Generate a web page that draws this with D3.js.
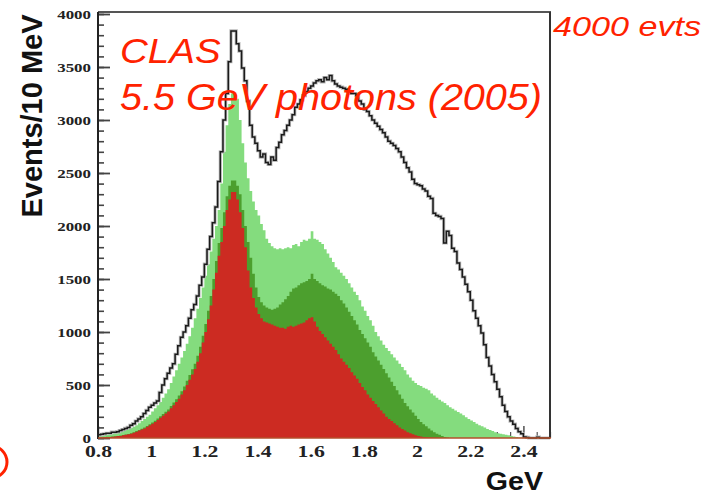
<!DOCTYPE html>
<html>
<head>
<meta charset="utf-8">
<script src="https://cdn.jsdelivr.net/npm/d3@7"></script>
<style>
body{margin:0;background:#fff;}
</style>
</head>
<body>
<svg id="chart" width="707" height="495"></svg>
<script>
// 10 MeV bins starting at 0.8 GeV
var binStart = 0.8, binWidth = 0.01;

// all events (black outline)
var total = [
  30, 35, 40, 45, 45, 55, 55, 60, 70, 80,
  90, 100, 120, 135, 160, 180, 200, 230, 260, 290,
  310, 330, 350, 430, 500, 560, 610, 660, 700, 790,
  870, 950, 1000, 1060, 1130, 1210, 1260, 1340, 1440, 1520,
  1640, 1780, 1900, 2030, 2180, 2420, 2700, 3000, 3250, 3550,
  3840, 3840, 3720, 3650, 3490, 3370, 3180, 2950, 2840, 2780,
  2710, 2650, 2680, 2600, 2580, 2650, 2620, 2740, 2790, 2860,
  2900, 2950, 3000, 3050, 3120, 3150, 3190, 3230, 3270, 3300,
  3320, 3350, 3370, 3380, 3360, 3400, 3380, 3420, 3370, 3340,
  3320, 3310, 3300, 3290, 3270, 3250, 3250, 3230, 3180, 3150,
  3100, 3080, 3040, 3000, 2970, 2940, 2910, 2880, 2840, 2800,
  2780, 2760, 2730, 2700, 2650, 2600, 2550, 2510, 2440, 2400,
  2390, 2380, 2350, 2330, 2280, 2260, 2120, 2100, 2090, 2070,
  1840, 1950, 1910, 1790, 1760, 1650, 1590, 1520, 1450, 1380,
  1300, 1200, 1130, 1060, 990, 880, 760, 680, 600, 530,
  460, 390, 310, 250, 200, 160, 130, 90, 60, 40,
  10, 5, 0, 0, 0, 8, 0, 0, 0, 0
];

// stacked tops: light green (outer), dark green, red (inner)
var lightGreen = [
  20, 25, 30, 35, 40, 45, 50, 55, 60, 70,
  75, 85, 95, 105, 120, 140, 160, 180, 200, 220,
  250, 280, 310, 340, 380, 420, 460, 520, 580, 640,
  700, 760, 820, 890, 960, 1040, 1130, 1220, 1320, 1420,
  1530, 1640, 1760, 1880, 2000, 2150, 2400, 2700, 2950, 3150,
  3250, 3260, 3200, 3000, 2780, 2600, 2450, 2330, 2230, 2150,
  2100, 2020, 1960, 1880, 1840, 1810, 1790, 1780, 1790, 1780,
  1790, 1800, 1790, 1820, 1830, 1810, 1850, 1870, 1860, 1880,
  1950, 1880, 1870, 1850, 1830, 1780, 1740, 1700, 1660, 1610,
  1590, 1560, 1530, 1500, 1460, 1420, 1380, 1350, 1300, 1240,
  1200, 1150, 1110, 1060, 1000, 960, 920, 880, 850, 820,
  790, 760, 730, 700, 670, 640, 600, 570, 540, 520,
  500, 490, 475, 465, 450, 420, 400, 380, 360, 345,
  330, 310, 290, 275, 260, 245, 230, 215, 195, 180,
  165, 150, 135, 120, 110, 100, 85, 75, 65, 55,
  45, 40, 35, 30, 25, 20, 15, 10, 5, 5,
  0, 0, 0, 0, 0, 0, 0, 0, 0, 0
];

var darkGreen = [
  5, 6, 9, 11, 12, 14, 17, 20, 23, 28,
  33, 38, 44, 55, 65, 76, 87, 98, 114, 130,
  146, 162, 184, 205, 227, 248, 270, 302, 334, 366,
  400, 442, 485, 540, 594, 648, 700, 776, 860, 965,
  1075, 1200, 1340, 1500, 1670, 1840, 1980, 2130, 2280, 2380,
  2430, 2430, 2380, 2300, 2150, 2000, 1850, 1700, 1550, 1420,
  1330, 1280, 1250, 1230, 1220, 1210, 1220, 1230, 1260, 1280,
  1310, 1340, 1380, 1410, 1420, 1440, 1460, 1470, 1480, 1500,
  1550, 1500, 1480, 1460, 1440, 1430, 1410, 1400, 1380, 1360,
  1340, 1300, 1270, 1230, 1190, 1150, 1110, 1070, 1020, 980,
  940, 900, 860, 810, 770, 730, 690, 650, 610, 570,
  530, 490, 450, 410, 370, 330, 300, 270, 240, 210,
  180, 150, 130, 110, 90, 70, 55, 40, 30, 20,
  10, 5, 0, 0, 0, 0, 0, 0, 0, 0,
  0, 0, 0, 0, 0, 0, 0, 0, 0, 0,
  0, 0, 0, 0, 0, 0, 0, 0, 0, 0,
  0, 0, 0, 0, 0, 0, 0, 0, 0, 0
];

var red = [
  5, 5, 8, 10, 10, 12, 15, 18, 20, 25,
  30, 35, 40, 50, 60, 70, 80, 90, 105, 120,
  135, 150, 170, 190, 210, 230, 250, 280, 310, 340,
  370, 410, 450, 500, 550, 600, 650, 720, 800, 900,
  1000, 1120, 1250, 1400, 1560, 1720, 1850, 2000, 2150, 2250,
  2320, 2320, 2250, 2130, 1980, 1800, 1580, 1420, 1320, 1230,
  1170, 1130, 1100, 1090, 1080, 1070, 1060, 1050, 1040, 1040,
  1030, 1050, 1060, 1050, 1060, 1070, 1080, 1090, 1110, 1130,
  1140, 1100, 1050, 1010, 980, 950, 920, 890, 860, 830,
  790, 750, 720, 690, 660, 620, 590, 560, 520, 480,
  450, 410, 380, 350, 320, 290, 260, 230, 200, 180,
  160, 140, 120, 100, 85, 70, 55, 45, 35, 25,
  20, 15, 10, 8, 5, 5, 3, 2, 0, 0,
  0, 0, 0, 0, 0, 0, 0, 0, 0, 0,
  0, 0, 0, 0, 0, 0, 0, 0, 0, 0,
  0, 0, 0, 0, 0, 0, 0, 0, 0, 0,
  0, 0, 0, 0, 0, 0, 0, 0, 0, 0
];

var xTicks = [0.8, 1, 1.2, 1.4, 1.6, 1.8, 2, 2.2, 2.4];
var xMinor = [0.85, 0.9, 0.95, 1.05, 1.1, 1.15, 1.25, 1.3, 1.35, 1.45, 1.5, 1.55, 1.65, 1.7, 1.75, 1.85, 1.9, 1.95, 2.05, 2.1, 2.15, 2.25, 2.3, 2.35, 2.45, 2.5];
var yTicks = [0, 500, 1000, 1500, 2000, 2500, 3000, 3500, 4000];

var svg = d3.select('#chart');

var x = d3.scaleLinear().domain([0.8, 2.5]).range([98, 550]);
var y = d3.scaleLinear().domain([0, 4000]).range([438, 14]);

// stretch text horizontally, the original picture is squeezed
function stretch(sel, k){
    sel.each(function(){
        var w = this.getComputedTextLength();
        d3.select(this).attr('textLength', w * k).attr('lengthAdjust', 'spacingAndGlyphs');
    });
}

// turn bin contents into step points, closing the last bin at 2.5
function steps(arr){
    var pts = arr.map((v, i) => [binStart + i * binWidth, v]);
    pts.push([binStart + arr.length * binWidth, arr[arr.length - 1]]);
    return pts;
}

// minor ticks first, they end up under the fills
svg.append('g')
    .attr('transform', 'translate(98,0)')
    .call(d3.axisLeft(y).tickValues(d3.range(0, 4001, 100)).tickSize(-6).tickSizeOuter(0).tickFormat(''))
    .call(g => g.select('.domain').remove())
    .selectAll('line').attr('stroke', '#444').attr('stroke-width', 1.6);

svg.append('g')
    .attr('transform', 'translate(0,438)')
    .call(d3.axisBottom(x).tickValues(xMinor).tickSize(-6).tickSizeOuter(0).tickFormat(''))
    .call(g => g.select('.domain').remove())
    .selectAll('line').attr('stroke', '#555').attr('stroke-width', 1.2);

var yAxis = svg.append('g')
    .attr('transform', 'translate(98,0)')
    .call(d3.axisLeft(y).tickValues(yTicks).tickSize(-12).tickSizeOuter(0).tickPadding(7).tickFormat(d3.format('d')));
yAxis.select('.domain').remove();
yAxis.selectAll('line').attr('stroke', '#444').attr('stroke-width', 1.8);
yAxis.selectAll('text')
    .attr('fill', '#222')
    .style('font', 'bold 13px "Liberation Serif", serif')
    .call(stretch, 1.3);

var xAxis = svg.append('g')
    .attr('transform', 'translate(0,438)')
    .call(d3.axisBottom(x).tickValues(xTicks).tickSize(-12).tickSizeOuter(0).tickPadding(7).tickFormat(d => String(d)));
xAxis.select('.domain').remove();
xAxis.selectAll('line').attr('stroke', '#444').attr('stroke-width', 1.4);
xAxis.selectAll('text')
    .attr('fill', '#222')
    .style('font', 'bold 17px "Liberation Serif", serif')
    .call(stretch, 1.28);

var area = d3.area()
    .x(d => x(d[0]))
    .y0(y(0))
    .y1(d => y(d[1]))
    .curve(d3.curveStepAfter);

svg.append('path').datum(steps(lightGreen)).attr('fill', '#84dc7e').attr('d', area);
svg.append('path').datum(steps(darkGreen)).attr('fill', '#4c9f2e').attr('d', area);
svg.append('path').datum(steps(red)).attr('fill', '#cc2b22').attr('d', area);

var line = d3.line()
    .x(d => x(d[0]))
    .y(d => y(d[1]))
    .curve(d3.curveStepAfter);

// grey halo under the outline like in the scanned plot
svg.append('path').datum(steps(total))
    .attr('fill', 'none').attr('stroke', '#bbb').attr('stroke-width', 3.2).attr('d', line);
svg.append('path').datum(steps(total))
    .attr('fill', 'none').attr('stroke', '#1a1a1a').attr('stroke-width', 1.5).attr('d', line);

// frame
svg.append('line').attr('x1', 98).attr('x2', 551).attr('y1', 12).attr('y2', 12)
    .attr('stroke', '#555').attr('stroke-width', 2);
svg.append('line').attr('x1', 550).attr('x2', 550).attr('y1', 12).attr('y2', 438)
    .attr('stroke', '#333').attr('stroke-width', 2);
svg.append('line').attr('x1', 98).attr('x2', 98).attr('y1', 12).attr('y2', 439)
    .attr('stroke', '#222').attr('stroke-width', 2);
svg.append('line').attr('x1', 98).attr('x2', 551).attr('y1', 438).attr('y2', 438)
    .attr('stroke', '#b4502c').attr('stroke-width', 1.6);

// axis titles
svg.append('text')
    .attr('transform', 'translate(42,116) rotate(-90)')
    .attr('text-anchor', 'middle')
    .style('font', 'bold 29px "Liberation Sans", Arial, sans-serif')
    .attr('fill', '#111')
    .text('Events/10 MeV');

svg.append('text')
    .attr('x', 543).attr('y', 490)
    .attr('text-anchor', 'end')
    .style('font', 'bold 26px "Liberation Sans", Arial, sans-serif')
    .attr('fill', '#111')
    .text('GeV')
    .call(stretch, 1.1);

// red labels
svg.append('text')
    .attr('x', 120).attr('y', 63)
    .style('font', 'italic 35px "Liberation Sans", Arial, sans-serif')
    .attr('fill', '#ff2200')
    .text('CLAS')
    .call(stretch, 1.1);

svg.append('text')
    .attr('x', 120).attr('y', 110)
    .style('font', 'italic 36px "Liberation Sans", Arial, sans-serif')
    .attr('fill', '#ff2200')
    .text('5.5 GeV photons (2005)')
    .each(function(){ d3.select(this).attr('textLength', 422).attr('lengthAdjust', 'spacingAndGlyphs'); });

svg.append('text')
    .attr('x', 553).attr('y', 36)
    .style('font', 'italic 27px "Liberation Sans", Arial, sans-serif')
    .attr('fill', '#ff2200')
    .text('4000 evts')
    .each(function(){ d3.select(this).attr('textLength', 148).attr('lengthAdjust', 'spacingAndGlyphs'); });

// edge of a red ellipse cut by the left border
svg.append('ellipse')
    .attr('cx', -9).attr('cy', 462).attr('rx', 16).attr('ry', 16)
    .attr('fill', 'none').attr('stroke', '#ff2200').attr('stroke-width', 3);
</script>
</body>
</html>
